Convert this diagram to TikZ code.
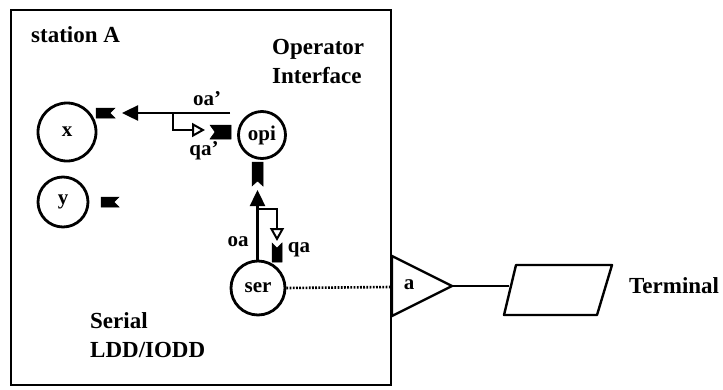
\documentclass[tikz,border=0pt]{standalone}
\usepackage{fontspec}
\setmainfont{Liberation Serif}
\usetikzlibrary{arrows.meta}
\begin{document}
\begin{tikzpicture}[x=1pt,y=-1pt,
  ln/.style={line width=2.4pt},
  proc/.style={circle,draw,line width=2.8pt,inner sep=0pt,font=\fontsize{21}{22}\selectfont\bfseries},
  big/.style={font=\fontsize{23}{29}\selectfont\bfseries,inner sep=0pt,align=left},
  lbl/.style={font=\fontsize{21}{22}\selectfont\bfseries,inner sep=0pt},
  port/.style={fill=black,draw=black,line width=0.5pt},
  solidtip/.style={-{Triangle[length=16pt,width=15pt]}},
  opentip/.style={-{Triangle[open,fill=white,length=13pt,width=14pt,line width=2pt]}}]
\useasboundingbox (0,0) rectangle (723,389);
% frame
\draw[ln] (11,10) rectangle (391,385);
% texts
\node[big,anchor=west] (st) at (31,35) {station A};
\node[big,anchor=west] (oi) at (272,61) {Operator\\Interface};
\node[big,anchor=west] (sl) at (90,335) {Serial\\LDD/IODD};
\node[big,anchor=west] (term) at (629,286) {Terminal};
% processes
\node[proc,minimum size=58pt] (x) at (67,132) {x};
\node[proc,minimum size=50pt] (y) at (63,202) {y};
\node[proc,minimum size=47pt] (opi) at (262,135) {opi};
\node[proc,minimum size=54pt] (ser) at (258,288) {ser};
% ports
\fill[port] (96,108) -- (115,108) -- (110,113) -- (115,118) -- (96,118) -- cycle;
\fill[port] (101,197) -- (119,197) -- (114,202) -- (119,207) -- (101,207) -- cycle;
\fill[port] (210,125) -- (231,125) -- (231,139) -- (210,139) -- (215,132) -- cycle;
\fill[port] (252,162) -- (263,162) -- (263,186) -- (257.5,181) -- (252,186) -- cycle;
\fill[port] (272,243) -- (277,248) -- (282,243) -- (282,262) -- (272,262) -- cycle;
% connectors
\coordinate (oaS) at (230,113);
\coordinate (oaE) at (122,113);
\coordinate (qaB) at (173,113);
\coordinate (qaE) at (205,130);
\draw[ln,solidtip] (oaS) -- (oaE);
\draw[line width=2pt,opentip] (qaB) |- (qaE);
\node[lbl] (oalbl) at (207,99) {oa'};
\node[lbl] (qalbl) at (204,151) {qa'};
\coordinate (oa2E) at (257.5,190);
\coordinate (oa2S) at (257.5,261);
\coordinate (qa2B) at (257.5,209);
\coordinate (qa2E) at (277,241);
\draw[ln,solidtip] (oa2S) -- (oa2E);
\draw[line width=2pt,opentip] (qa2B) -| (qa2E);
\node[lbl] (oa2lbl) at (238,242) {oa};
\node[lbl] (qa2lbl) at (299,250) {qa};
% amplifier a
\coordinate (aL1) at (392,256);
\coordinate (aL2) at (392,316);
\coordinate (aT) at (452,286);
\draw[ln,line join=miter] (aL1) -- (aT) -- (aL2) -- cycle;
\node[lbl] (alb) at (409,285) {a};
\coordinate (aIn) at (391,287);
\draw[line width=2.6pt,dash pattern=on 1.8pt off 1.4pt] (ser.east) -- (aIn);
% terminal
\coordinate (p1) at (516,265);
\coordinate (p2) at (612,265);
\coordinate (p3) at (597,315);
\coordinate (p4) at (504,315);
\draw[ln,line join=round] (p1) -- (p2) -- (p3) -- (p4) -- cycle;
\coordinate (pL) at (509,286);
\draw[ln] (aT) -- (pL);
\end{tikzpicture}
\end{document}
